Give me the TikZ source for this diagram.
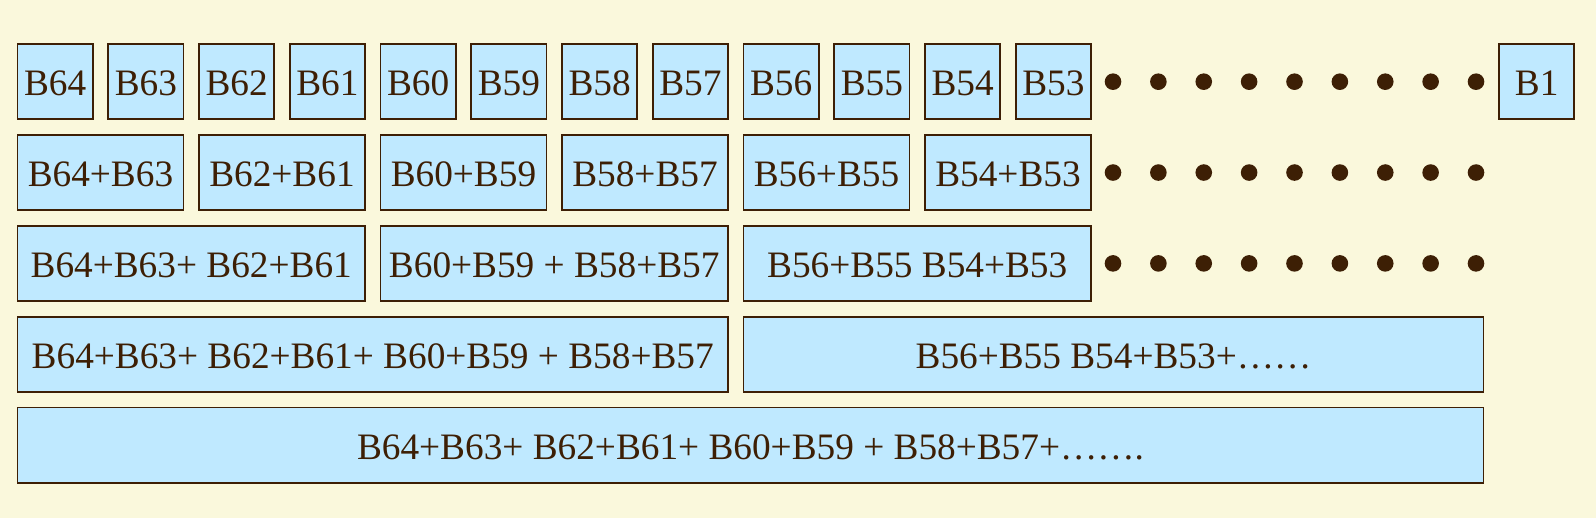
\documentclass[tikz,border=0pt]{standalone}
\usepackage{fontspec}
\setmainfont{Liberation Serif}
\definecolor{bg}{HTML}{FAF8DC}
\definecolor{boxfill}{HTML}{BFE9FF}
\definecolor{ink}{HTML}{3D1F05}
\begin{document}
\begin{tikzpicture}[x=1pt,y=-1pt,
  blk/.style={draw=ink, fill=boxfill, line width=1.8pt, inner sep=0pt, text=ink,
    font=\fontsize{37.3}{40}\selectfont, text height=28pt, text depth=0pt,
    minimum height=75.2pt},
  bdot/.style={fill=ink}]
\fill[bg] (0,0) rectangle (1596,518);
\useasboundingbox (0,0) rectangle (1596,518);
% row 1
\foreach \i/\t in {0/64,1/63,2/62,3/61,4/60,5/59,6/58,7/57,8/56,9/55,10/54,11/53}{
  \pgfmathsetmacro\cx{17.5+90.75*\i+37.6}
  \node[blk, minimum width=75.2pt] (ra\i) at (\cx,81.7) {B\t};
}
\node[blk, minimum width=75.2pt] (raone) at (1536.7,81.7) {B1};
% row 2
\foreach \i/\t in {0/B64+B63,1/B62+B61,2/B60+B59,3/B58+B57,4/B56+B55,5/B54+B53}{
  \pgfmathsetmacro\cx{17.5+181.5*\i+82.975}
  \node[blk, minimum width=165.95pt] (rb\i) at (\cx,172.55) {\t};
}
% row 3
\node[blk, minimum width=347.45pt] (rc0) at (191.225,263.4) {B64+B63+ B62+B61};
\node[blk, minimum width=347.45pt] (rc1) at (554.225,263.4) {B60+B59 + B58+B57};
\node[blk, minimum width=347.45pt] (rc2) at (917.225,263.4) {B56+B55 B54+B53};
% row 4
\node[blk, minimum width=710.45pt] (rd0) at (372.725,354.25) {B64+B63+ B62+B61+ B60+B59 + B58+B57};
\node[blk, minimum width=740pt] (rd1) at (1113.5,354.25) {B56+B55 B54+B53+……};
% row 5
\node[blk, minimum width=1466pt] (re0) at (750.5,445.1) {B64+B63+ B62+B61+ B60+B59 + B58+B57+…….};
% dots
\foreach \r in {81.7,172.55,263.4}{
  \foreach \j in {0,...,8}{
    \fill[bdot] ({1113+45.375*\j},\r) circle (8.3pt);
  }
}
\end{tikzpicture}
\end{document}
